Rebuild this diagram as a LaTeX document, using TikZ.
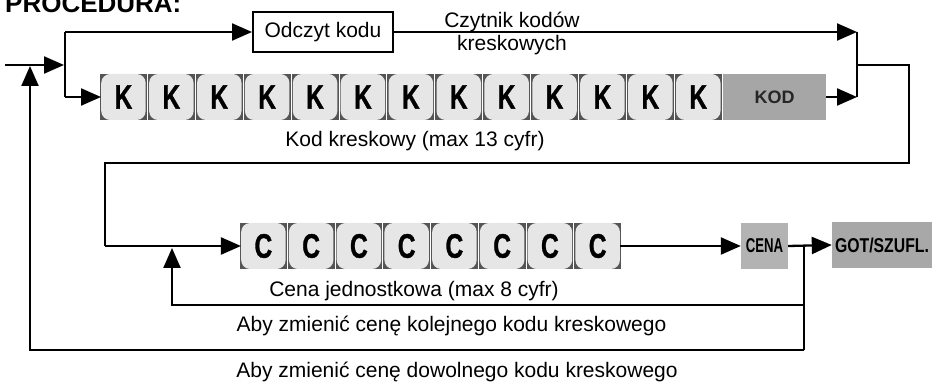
\documentclass[tikz,border=0pt]{standalone}
\usepackage{fontspec}
\setmainfont{Liberation Sans}
\newfontfamily\cellfont[BoldFeatures={FakeBold=1.2}]{Liberation Sans}
\usetikzlibrary{arrows.meta}
\definecolor{celldark}{HTML}{555555}
\definecolor{celllight}{HTML}{E6E6E6}
\definecolor{kodgray}{HTML}{A6A6A6}
\definecolor{cenagray}{HTML}{B3B3B3}
\definecolor{gotgray}{HTML}{A8A8A8}
\begin{document}
\begin{tikzpicture}[x=1pt,y=-1pt,
  flow/.style={line width=2.3pt},
  arr/.style={flow,-{Triangle[length=20pt,width=17pt]}},
  lbl/.style={font=\fontsize{21}{23}\selectfont, inner sep=0},
  cellin/.style={fill=celllight, rounded corners=9pt, minimum width=44.5pt, minimum height=46pt, inner sep=0, font=\fontsize{34}{34}\selectfont\cellfont\bfseries},
  graybox/.style={inner sep=0, minimum height=46pt, font=\fontsize{18}{18}\selectfont\bfseries}
]
\clip (0,0) rectangle (932,382);
\useasboundingbox (0,0) rectangle (932,382);

% title (cut off at top, as in the reference)
\node[anchor=base west, inner sep=0, font=\fontsize{26}{26}\selectfont\bfseries] (title) at (5,13) {PROCEDURA:};

% reader box
\node[draw, line width=2pt, minimum width=140pt, minimum height=40pt, lbl] (odczyt) at (323,32) {Odczyt kodu};
\node[lbl, align=center] (czyt) at (512,33) {Czytnik kodów\\kreskowych};

% K cells
\foreach \i in {1,...,13} {
  \pgfmathsetmacro\cx{100+(\i-1)*47.9+23.45}
  \fill[celldark] (\cx-23.45,74) rectangle (\cx+23.45,120);
  \node[cellin] (k\i) at (\cx,97) {\scalebox{0.72}[1]{K}};
}
\node[graybox, fill=kodgray, minimum width=103pt, text=black!85] (kod) at (774.5,97) {KOD};
\node[lbl, anchor=base] (kodlbl) at (415,147) {Kod kreskowy (max 13 cyfr)};

% C cells
\foreach \i in {1,...,8} {
  \pgfmathsetmacro\cx{240+(\i-1)*47.75+23.4}
  \fill[celldark] (\cx-23.4,223) rectangle (\cx+23.4,269);
  \node[cellin] (c\i) at (\cx,246) {\scalebox{0.72}[1]{C}};
}
\node[graybox, fill=cenagray, minimum width=47pt, font=\fontsize{20}{20}\selectfont\bfseries] (cena) at (764.5,246) {\scalebox{0.66}[1]{CENA}};
\node[graybox, fill=gotgray, minimum width=100pt, font=\fontsize{20}{20}\selectfont\bfseries] (got) at (882,245) {\scalebox{0.79}[1]{GOT/SZUFL.}};
\node[lbl, anchor=base] (cenalbl) at (414,296) {Cena jednostkowa (max 8 cyfr)};
\node[lbl, anchor=base] (kolej) at (451.5,331) {Aby zmienić cenę kolejnego kodu kreskowego};
\node[lbl, anchor=base] (dowol) at (457,377) {Aby zmienić cenę dowolnego kodu kreskowego};

% junctions
\coordinate (jin) at (5,65);
\coordinate (jl) at (64,65);
\coordinate (jlt) at (65,32);
\coordinate (jlb) at (65,97);
\coordinate (jrt) at (857,32);
\coordinate (jrb) at (857,97);
\coordinate (jrm) at (857,65);
\coordinate (jr2) at (909,65);
\coordinate (jr3) at (909,163);
\coordinate (jl2) at (105,163);
\coordinate (jl3) at (105,246);
\coordinate (jc) at (804,246);
\coordinate (jc2) at (804,305);
\coordinate (jc3) at (804,350);
\coordinate (ji) at (172,305);
\coordinate (jitip) at (172,248);
\coordinate (jo) at (30,350);
\coordinate (jotip) at (30,66);

% connectors
\draw[arr] (jin) -- (jl);
\draw[flow] (jlt) -- (jlb);
\draw[arr] (jlt) -- (odczyt.west);
\draw[arr] (jlb) -- (k1.west);
\draw[arr] (odczyt.east) -- (jrt);
\draw[arr] (kod.east) -- (jrb);
\draw[flow] (jrt) -- (jrb);
\draw[flow] (jrm) -- (jr2) -- (jr3) -- (jl2) -- (jl3);
\draw[arr] (jl3) -- (c1.west);
\draw[arr] (c8.east) -- (cena.west);
\draw[arr] (cena.east) -- (got.west);
\draw[flow] (jc) -- (jc3);
\draw[arr] (jc2) -- (ji) -- (jitip);
\draw[arr] (jc3) -- (jo) -- (jotip);
\end{tikzpicture}
\end{document}
